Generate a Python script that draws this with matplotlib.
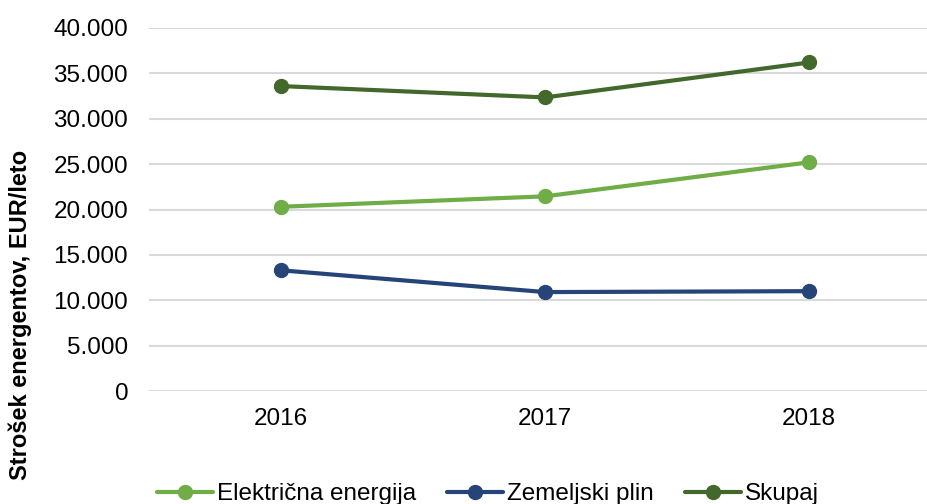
import numpy as np
import matplotlib.pyplot as plt
from matplotlib.ticker import FuncFormatter

plt.rcParams['font.family'] = ['Liberation Sans', 'DejaVu Sans']

years = ['2016', '2017', '2018']
elektricna = [20300, 21450, 25200]
zemeljski = [13300, 10900, 11000]
skupaj = [33600, 32350, 36200]

series = [
    ('Električna energija', elektricna, '#70AD47'),
    ('Zemeljski plin', zemeljski, '#264478'),
    ('Skupaj', skupaj, '#43682B'),
]

fig = plt.figure(figsize=(9.28, 5.04), dpi=100)
ax = fig.add_axes([149 / 928, 113 / 504, 779 / 928, 363 / 504])

x = np.arange(len(years))
for name, vals, col in series:
    ax.plot(x, vals, color=col, lw=3, marker='o', ms=10, label=name,
            solid_capstyle='round')

ax.set_xlim(-0.5, 2.45)
ax.set_ylim(0, 40000)
ax.set_yticks(np.arange(0, 40001, 5000))
ax.set_xticks(x)
ax.set_xticklabels(years)


def fmt(v, pos):
    return '{:,.0f}'.format(v).replace(',', '.')


ax.yaxis.set_major_formatter(FuncFormatter(fmt))
ax.grid(axis='y', color='#D9D9D9', lw=1.5)
ax.set_axisbelow(True)
for s in ax.spines.values():
    s.set_visible(False)
ax.tick_params(length=0, labelsize=17.5, colors='black')
ax.tick_params(axis='y', pad=15)
ax.tick_params(axis='x', pad=12)

fig.text(20 / 928, (504 - 315) / 504, 'Strošek energentov, EUR/leto',
         rotation=90, ha='center', va='center', fontsize=17,
         fontweight='bold')

fig.legend(loc='center', bbox_to_anchor=(488 / 928, 10 / 504), ncol=3,
           frameon=False, fontsize=17.5, handlelength=2.3,
           handletextpad=0.15, columnspacing=1.3)

fig.savefig('out.png', dpi=100)
